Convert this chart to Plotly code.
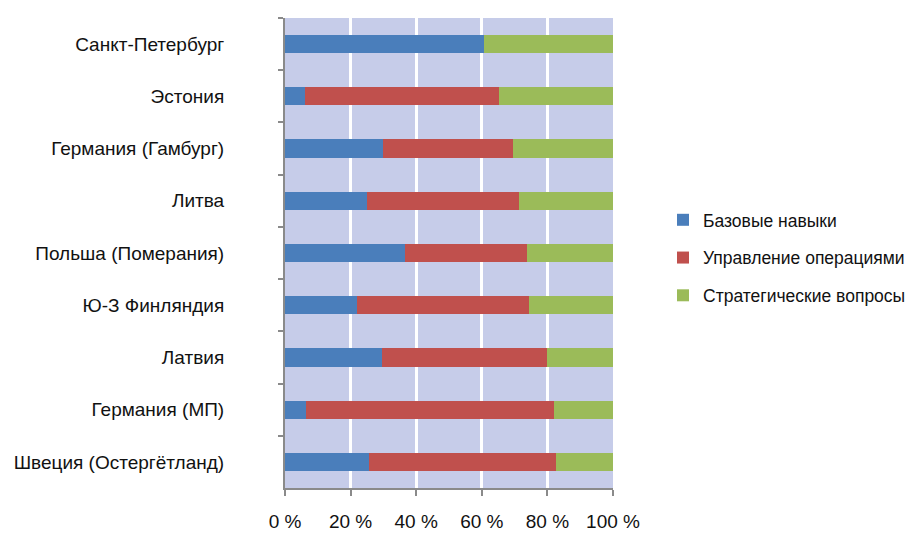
import plotly.graph_objects as go

regions = [
    "Санкт-Петербург",
    "Эстония",
    "Германия (Гамбург)",
    "Литва",
    "Польша (Померания)",
    "Ю-З Финляндия",
    "Латвия",
    "Германия (МП)",
    "Швеция (Остергётланд)",
]

basic_skills = [60.8, 6.1, 30.0, 25.1, 36.6, 22.0, 29.5, 6.4, 25.6]
operations = [0.0, 59.2, 39.6, 46.2, 37.3, 52.4, 50.3, 75.7, 57.0]
strategy = [39.2, 34.7, 30.4, 28.7, 26.1, 25.6, 20.2, 17.9, 17.4]

series_names = ["Базовые навыки", "Управление операциями", "Стратегические вопросы"]
series_colors = ["#4a7ebb", "#c0504d", "#9bbb59"]

x_ticks = [0, 20, 40, 60, 80, 100]
x_tick_text = ["0 %", "20 %", "40 %", "60 %", "80 %", "100 %"]

fig = go.Figure()
for name, vals, color in zip(series_names, [basic_skills, operations, strategy], series_colors):
    fig.add_trace(go.Bar(
        y=regions,
        x=vals,
        name=name,
        orientation="h",
        marker=dict(color=color, line=dict(width=0)),
        width=0.35,
        legendgroup=name,
    ))

fig.update_layout(
    width=915,
    height=534,
    barmode="stack",
    plot_bgcolor="#c6cce9",
    paper_bgcolor="white",
    margin=dict(l=285, r=302, t=18, b=46),
    font=dict(family="Liberation Sans, Arial, sans-serif", color="#111111"),
    legend=dict(
        xref="container",
        yref="container",
        x=0.7246,
        xanchor="left",
        y=0.517,
        yanchor="middle",
        traceorder="grouped",
        tracegroupgap=12,
        font=dict(size=17.5, color="#111111"),
        itemwidth=30,
    ),
    showlegend=True,
)

fig.update_xaxes(
    range=[0, 100],
    tickvals=x_ticks,
    ticktext=x_tick_text,
    showgrid=True,
    gridcolor="white",
    gridwidth=3,
    zeroline=False,
    showline=True,
    linecolor="#8a8a8a",
    linewidth=2,
    ticks="outside",
    ticklen=6,
    tickwidth=2,
    tickcolor="#8a8a8a",
    tickfont=dict(size=19, color="#111111"),
    ticklabelstandoff=9,
    automargin=False,
)

fig.update_yaxes(
    autorange="reversed",
    tickson="boundaries",
    showgrid=False,
    showline=True,
    linecolor="#8a8a8a",
    linewidth=2,
    ticks="outside",
    ticklen=5,
    tickwidth=2,
    tickcolor="#8a8a8a",
    tickfont=dict(size=19, color="#111111"),
    ticklabelstandoff=55,
    automargin=False,
)

fig.write_html("out.html")
